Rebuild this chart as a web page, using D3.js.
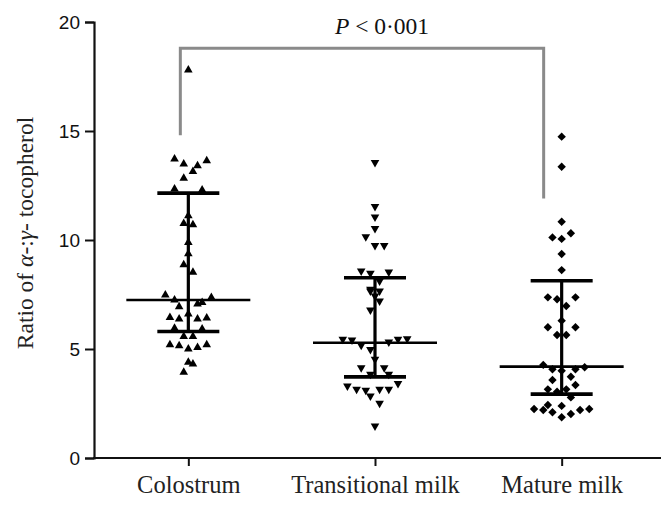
<!DOCTYPE html>
<html>
<head>
<meta charset="utf-8">
<script src="https://cdn.jsdelivr.net/npm/d3@7"></script>
<style>
  body { margin: 0; background: #fff; }
</style>
</head>
<body>
<div id="chart"></div>
<script>
const categories = ["Colostrum", "Transitional milk", "Mature milk"];
const yTicks = [0, 5, 10, 15, 20];

// individual ratios, and the scatter lane each point sits in
const colostrumValues = [17.83, 13.75, 13.52, 13.44, 13.67, 13.17, 12.86, 12.37, 12.33, 11.15, 10.79, 10.73, 9.92, 9.4, 8.9, 8.55,
  7.51, 7.28, 7.17, 7.4, 6.97, 7.1, 6.64, 6.48, 6.41, 6.41, 6.45, 5.98, 5.95, 5.6, 5.6, 5.23, 5.18, 5.03, 5.1, 5.23, 4.42, 4.34, 3.96];
const colostrumSlots = [0, -3, -1, 2, 4, 1, -1, -3, 3, 0, -1, 1, 0, 0, -1, 1,
  -5, -3, 3, 5, -2, 2, 0, -4, -2, 2, 4, -3, 3, -1, 1, -4, -2, 0, 2, 4, 0, 1, -1];

const transitionalValues = [13.52, 11.5, 11.02, 10.49, 10.12, 9.72, 9.72, 8.55, 8.44, 8.5, 8.09, 7.71, 7.4, 7.63, 7.63, 7.17, 6.76,
  5.41, 5.38, 5.14, 5.29, 5.41, 5.44, 4.95, 4.5, 4.11, 4.11, 3.81, 3.81, 3.27, 3.12, 3.07, 3.12, 3.12, 3.39, 2.81, 2.48, 1.44];
const transitionalSlots = [0, 0, 0, 0, -2, 0, 2, -3, -1, 3, 1, -1, 0, -1, 1, 1, -1,
  -7, -5, -3, 3, 5, 7, -1, 0, -3, 2, -1, 3, -6, -4, -2, 1, 3, 5, -1, 1, 0];

const matureValues = [14.74, 13.36, 10.84, 10.31, 10.12, 10.05, 9.36, 8.62, 7.37, 7.28, 7.37, 6.97, 6.3, 6.0, 6.0, 5.64, 5.64,
  4.27, 4.07, 4.0, 4.07, 4.16, 3.58, 3.73, 3.35, 3.15, 3.04, 3.15, 2.78, 2.43, 2.25, 2.2, 2.1, 2.39, 2.02, 2.2, 2.25, 1.87];
const matureSlots = [0, 0, 0, 2, -2, 0, 0, 0, -3, -1, 3, 1, 0, -3, 3, -1, 1,
  -4, -2, 0, 3, 5, -2, 2, 3, -3, -1, 1, 2, -3, -6, -4, -2, 0, 2, 4, 6, 0];

// median with interquartile range
const medians = [7.25, 5.29, 4.19];
const lowerQuartiles = [5.8, 3.72, 2.93];
const upperQuartiles = [12.15, 8.27, 8.13];

// significance bracket: top, left foot, right foot
const bracketValues = [18.8, 14.8, 11.9];
const bracketLabel = "P < 0·001";

const groups = [
  { values: colostrumValues, slots: colostrumSlots, symbol: "up" },
  { values: transitionalValues, slots: transitionalSlots, symbol: "down" },
  { values: matureValues, slots: matureSlots, symbol: "diamond" }
];

const width = 661, height = 508;
const serif = "'Liberation Serif', 'Times New Roman', serif";
const svg = d3.select("#chart").append("svg")
  .attr("width", width)
  .attr("height", height);

const x = d3.scalePoint().domain(categories).range([95, 655]).padding(0.5);
const y = d3.scaleLinear().domain([0, 20]).range([458, 22]);
const lane = d3.scaleLinear().domain([0, 1]).range([0, 4.6]);

// axes
const yAxis = d3.axisLeft(y).tickValues(yTicks).tickSize(9).tickPadding(5);
const gy = svg.append("g").attr("transform", "translate(94,0)").call(yAxis);
gy.select(".domain").attr("stroke", "#111").attr("stroke-width", 2.2);
gy.selectAll(".tick line").attr("stroke", "#111").attr("stroke-width", 2);
gy.selectAll(".tick text")
  .attr("font-family", "'Liberation Sans', Arial, sans-serif")
  .attr("font-size", 19).attr("fill", "#111");

const xAxis = d3.axisBottom(x).tickSize(8).tickPadding(10).tickSizeOuter(0);
const gx = svg.append("g").attr("transform", "translate(0,458)").call(xAxis);
gx.select(".domain").attr("stroke", "#111").attr("stroke-width", 2.2)
  .attr("d", "M93,0H661");
gx.selectAll(".tick line").attr("stroke", "#111").attr("stroke-width", 2);
gx.selectAll(".tick text")
  .attr("font-family", serif)
  .attr("font-size", 24.5).attr("fill", "#222")
  .attr("y", 35).attr("dy", 0);

// y label
const ylab = svg.append("text")
  .attr("transform", "translate(33,233) rotate(-90)")
  .attr("text-anchor", "middle")
  .attr("font-family", serif)
  .attr("font-size", 23.5).attr("fill", "#222");
ylab.append("tspan").text("Ratio of ");
ylab.append("tspan").attr("font-style", "italic").text("α");
ylab.append("tspan").text("-:");
ylab.append("tspan").attr("font-style", "italic").text("γ");
ylab.append("tspan").text("- tocopherol");

// bracket
const bx0 = x(categories[0]) - 8, bx1 = x(categories[2]) - 18;
svg.append("path")
  .attr("d", `M${bx0},${y(bracketValues[1])}V${y(bracketValues[0])}H${bx1}V${y(bracketValues[2])}`)
  .attr("fill", "none").attr("stroke", "#8a8a8a").attr("stroke-width", 3);

const pt = svg.append("text")
  .attr("x", (bx0 + bx1) / 2 + 20).attr("y", 34)
  .attr("text-anchor", "middle")
  .attr("font-family", serif)
  .attr("font-size", 23.5).attr("fill", "#111");
pt.append("tspan").attr("font-style", "italic").text(bracketLabel.slice(0, 1));
pt.append("tspan").text(bracketLabel.slice(1));

// points
function symbolPath(kind) {
  if (kind === "up") return "M0,-4.3L4.3,3.2L-4.3,3.2Z";
  if (kind === "down") return "M0,4.3L4.3,-3.2L-4.3,-3.2Z";
  return "M0,-4.2L4.2,0L0,4.2L-4.2,0Z";
}

groups.forEach((g, gi) => {
  const cx = x(categories[gi]);
  svg.append("g").selectAll("path")
    .data(g.values.map((v, i) => ({ v: v, s: g.slots[i] })))
    .join("path")
    .attr("d", symbolPath(g.symbol))
    .attr("transform", d => `translate(${cx + lane(d.s)},${y(d.v)})`)
    .attr("fill", "#000");
});

// median and IQR
categories.forEach((c, i) => {
  const cx = x(c);
  const g = svg.append("g").attr("stroke", "#000");
  g.append("line")
    .attr("x1", cx).attr("x2", cx)
    .attr("y1", y(lowerQuartiles[i])).attr("y2", y(upperQuartiles[i]))
    .attr("stroke-width", 3.2);
  g.append("line")
    .attr("x1", cx - 62).attr("x2", cx + 62)
    .attr("y1", y(medians[i])).attr("y2", y(medians[i]))
    .attr("stroke-width", 2.6);
  [lowerQuartiles[i], upperQuartiles[i]].forEach(q => {
    g.append("line")
      .attr("x1", cx - 31).attr("x2", cx + 31)
      .attr("y1", y(q)).attr("y2", y(q))
      .attr("stroke-width", 3.6);
  });
});
</script>
</body>
</html>
